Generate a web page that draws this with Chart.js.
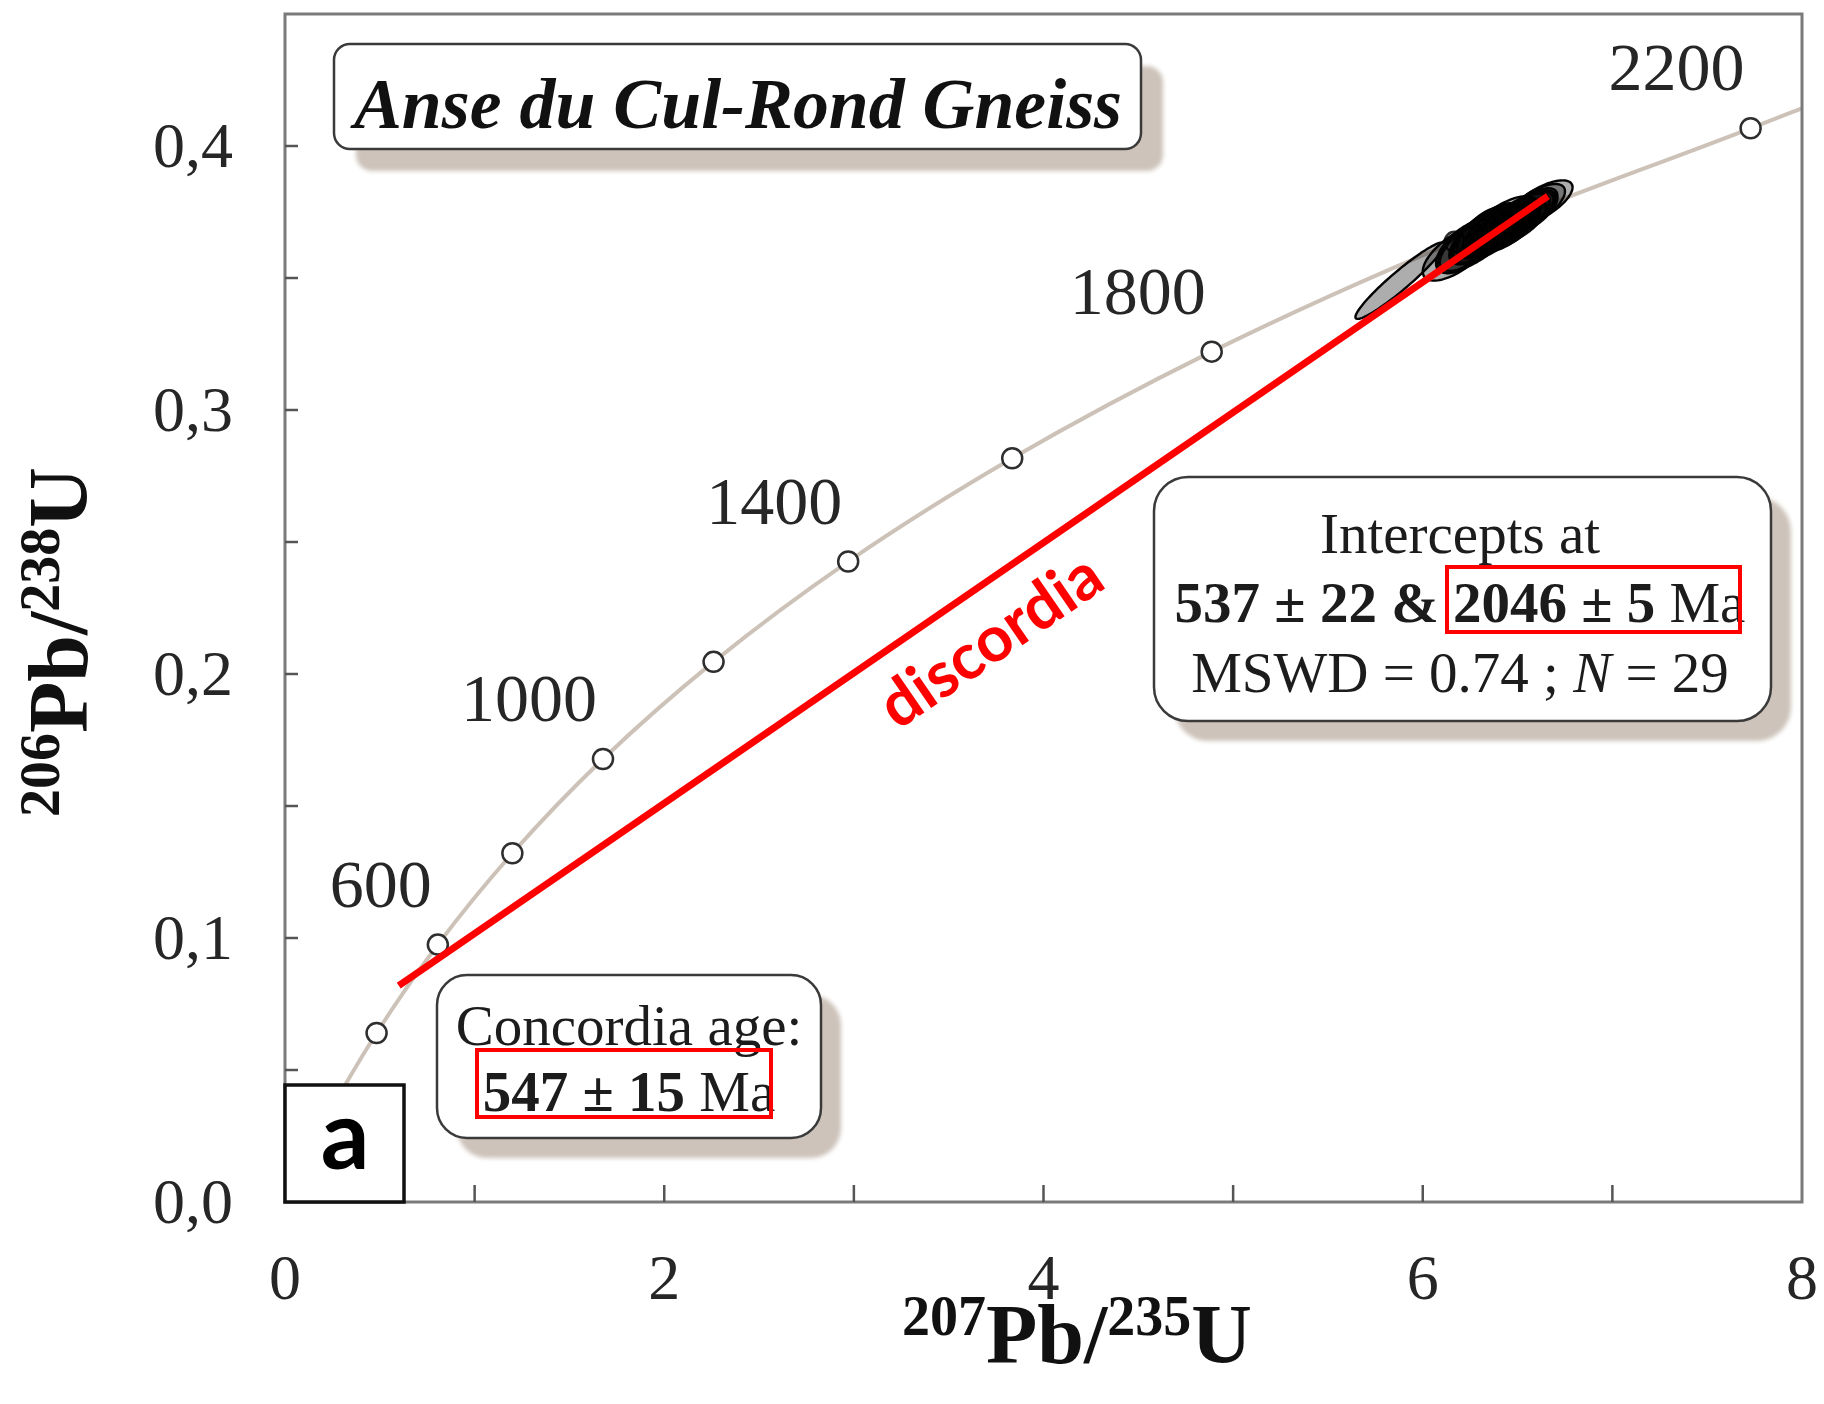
<!DOCTYPE html>
<html>
<head>
<meta charset="utf-8">
<title>Anse du Cul-Rond Gneiss – U-Pb concordia</title>
<script src="https://cdn.jsdelivr.net/npm/chart.js"></script>
<style>
  html, body { margin: 0; padding: 0; background: #ffffff; }
  canvas { display: block; }
</style>
</head>
<body>
<canvas id="concordia" width="1824" height="1404"></canvas>
<script>
// Concordia curve (207Pb/235U, 206Pb/238U), sampled every 200 Ma up to the right edge
const concordiaX = [0, 0.218, 0.483, 0.806, 1.199, 1.677, 2.260, 2.970, 3.835, 4.887, 6.168, 7.729, 8.000];
const concordiaY = [0, 0.0315, 0.0640, 0.0975, 0.1321, 0.1678, 0.2046, 0.2426, 0.2817, 0.3221, 0.3637, 0.4067, 0.4143];

// Age ticks on the concordia (Ma)
const markerAges = [400, 600, 800, 1000, 1200, 1400, 1600, 1800, 2000, 2200];
const markerX = [0.483, 0.806, 1.199, 1.677, 2.260, 2.970, 3.835, 4.887, 6.168, 7.729];
const markerY = [0.0640, 0.0975, 0.1321, 0.1678, 0.2046, 0.2426, 0.2817, 0.3221, 0.3637, 0.4067];
const labelledAges = ['600', '1000', '1400', '1800', '2200'];

// Zircon analyses (N = 29): centre, 2-sigma errors and error correlation
const spotX   = [5.88, 6.18, 6.22, 6.25, 6.28, 6.30, 6.32, 6.34, 6.36, 6.37, 6.38, 6.40, 6.41, 6.42, 6.43,
                 6.44, 6.45, 6.46, 6.47, 6.48, 6.50, 6.51, 6.53, 6.55, 6.57, 6.59, 6.62, 6.29, 6.52];
const spotY   = [0.3490, 0.3595, 0.3620, 0.3628, 0.3650, 0.3655, 0.3672, 0.3670, 0.3675, 0.3663, 0.3687, 0.3680, 0.3705, 0.3690, 0.3698,
                 0.3688, 0.3705, 0.3695, 0.3718, 0.3708, 0.3728, 0.3715, 0.3740, 0.3748, 0.3760, 0.3770, 0.3785, 0.3642, 0.3735];
const spotSx  = [0.235, 0.18, 0.15, 0.17, 0.13, 0.16, 0.14, 0.18, 0.15, 0.13, 0.16, 0.14, 0.19, 0.15, 0.13,
                 0.17, 0.14, 0.16, 0.15, 0.13, 0.17, 0.14, 0.16, 0.15, 0.14, 0.16, 0.17, 0.20, 0.19];
const spotSy  = [0.0145, 0.0105, 0.0100, 0.0110, 0.0095, 0.0103, 0.0097, 0.0113, 0.0092, 0.0085, 0.0097, 0.0089, 0.0105, 0.0092, 0.0078,
                 0.0092, 0.0080, 0.0088, 0.0084, 0.0076, 0.0092, 0.0080, 0.0086, 0.0084, 0.0080, 0.0086, 0.0085, 0.0115, 0.0095];
const spotRho = [0.95, 0.67, 0.65, 0.69, 0.63, 0.67, 0.64, 0.70, 0.66, 0.62, 0.67, 0.65, 0.71, 0.66, 0.63,
                 0.68, 0.64, 0.67, 0.66, 0.62, 0.69, 0.64, 0.67, 0.66, 0.65, 0.68, 0.69, 0.72, 0.70];

// Discordia chord through the lower (537 Ma) and upper (2046 Ma) intercepts
const discordiaX = [0.60, 6.66];
const discordiaY = [0.082, 0.381];

// Axis tick labels
const xTickLabels = ['0', '2', '4', '6', '8'];
const yTickLabels = ['0,0', '0,1', '0,2', '0,3', '0,4'];

const SERIF = '"Liberation Serif", "Times New Roman", serif';
const SANS = 'Lato, "Open Sans", sans-serif';

const toPoints = (xs, ys) => xs.map((x, i) => ({ x: x, y: ys[i] }));

// Draws a sequence of differently styled text runs centred on cx
function drawRuns(ctx, runs, cx, baseline) {
  let total = 0;
  runs.forEach(r => { ctx.font = r.font; r.w = ctx.measureText(r.text).width; total += r.w; });
  let x = cx - total / 2;
  ctx.textAlign = 'left';
  ctx.textBaseline = 'alphabetic';
  runs.forEach(r => {
    ctx.font = r.font;
    ctx.fillStyle = r.color || '#1c1c1c';
    ctx.fillText(r.text, x, baseline + (r.dy || 0));
    x += r.w;
  });
}

// Rounded label box with an offset soft shadow
function shadowBox(ctx, x, y, w, h, r, off) {
  ctx.save();
  ctx.filter = 'blur(2px)';
  ctx.fillStyle = '#cdc3ba';
  ctx.beginPath();
  ctx.roundRect(x + off, y + off, w, h, r);
  ctx.fill();
  ctx.filter = 'none';
  ctx.fillStyle = '#ffffff';
  ctx.strokeStyle = '#3a3a3a';
  ctx.lineWidth = 2.5;
  ctx.beginPath();
  ctx.roundRect(x, y, w, h, r);
  ctx.fill();
  ctx.stroke();
  ctx.restore();
}

function redFrame(ctx, x, y, w, h) {
  ctx.save();
  ctx.strokeStyle = '#ff0000';
  ctx.lineWidth = 4;
  ctx.strokeRect(x, y, w, h);
  ctx.restore();
}

// Error ellipses, drawn just above the concordia and its age ticks
const ellipsePlugin = {
  id: 'errorEllipses',
  afterDatasetDraw(chart, args) {
    if (args.index !== 1) return;
    const ctx = chart.ctx, xs = chart.scales.x, ys = chart.scales.y;
    ctx.save();
    ctx.fillStyle = 'rgba(0,0,0,0.32)';
    ctx.strokeStyle = '#030303';
    ctx.lineWidth = 2.4;
    for (let i = 0; i < spotX.length; i++) {
      const s = Math.sqrt(1 - spotRho[i] * spotRho[i]);
      ctx.beginPath();
      for (let k = 0; k <= 90; k++) {
        const t = k / 90 * 2 * Math.PI;
        const x = spotX[i] + spotSx[i] * Math.cos(t);
        const y = spotY[i] + spotSy[i] * (spotRho[i] * Math.cos(t) + s * Math.sin(t));
        const px = xs.getPixelForValue(x), py = ys.getPixelForValue(y);
        if (k === 0) ctx.moveTo(px, py); else ctx.lineTo(px, py);
      }
      ctx.closePath();
      ctx.fill();
      ctx.stroke();
    }
    ctx.restore();
  }
};

// Frame, inward ticks, tick labels, annotations and axis titles
const decorPlugin = {
  id: 'decor',
  afterDraw(chart) {
    const ctx = chart.ctx, area = chart.chartArea;
    const xs = chart.scales.x, ys = chart.scales.y;

    // plot frame
    ctx.save();
    ctx.strokeStyle = '#7a7a7a';
    ctx.lineWidth = 3;
    ctx.strokeRect(area.left, area.top, area.right - area.left, area.bottom - area.top);

    // inward tick marks
    ctx.strokeStyle = '#555555';
    ctx.lineWidth = 2.5;
    ys.ticks.forEach(t => {
      if (t.value <= ys.min + 1e-9 || t.value >= ys.max - 1e-9) return;
      const py = ys.getPixelForValue(t.value);
      ctx.beginPath(); ctx.moveTo(area.left, py); ctx.lineTo(area.left + 13, py); ctx.stroke();
    });
    xs.ticks.forEach(t => {
      if (t.value <= xs.min + 1e-9 || t.value >= xs.max - 1e-9) return;
      const px = xs.getPixelForValue(t.value);
      ctx.beginPath(); ctx.moveTo(px, area.bottom); ctx.lineTo(px, area.bottom - 17); ctx.stroke();
    });

    // tick labels
    ctx.font = '64px ' + SERIF;
    ctx.fillStyle = '#262626';
    ctx.textBaseline = 'alphabetic';
    ctx.textAlign = 'right';
    ys.ticks.forEach(t => {
      const k = Math.round(t.value * 100);
      if (k % 10 !== 0) return;
      ctx.fillText(yTickLabels[k / 10], area.left - 52, ys.getPixelForValue(t.value) + 21);
    });
    ctx.textAlign = 'center';
    xs.ticks.forEach(t => {
      const k = Math.round(t.value);
      if (k % 2 !== 0) return;
      ctx.fillText(xTickLabels[k / 2], xs.getPixelForValue(t.value), area.bottom + 97);
    });
    ctx.restore();

    // age labels beside the concordia ticks
    ctx.save();
    ctx.font = '68px ' + SERIF;
    ctx.fillStyle = '#262626';
    ctx.textAlign = 'right';
    ctx.textBaseline = 'alphabetic';
    labelledAges.forEach(lbl => {
      const i = markerAges.indexOf(Number(lbl));
      const px = xs.getPixelForValue(markerX[i]);
      const py = ys.getPixelForValue(markerY[i]);
      ctx.fillText(lbl, px - 6, py - 38);
    });
    ctx.restore();

    // "discordia" along the red chord, just below its midpoint
    const p0x = xs.getPixelForValue(discordiaX[0]), p0y = ys.getPixelForValue(discordiaY[0]);
    const p1x = xs.getPixelForValue(discordiaX[1]), p1y = ys.getPixelForValue(discordiaY[1]);
    const ang = Math.atan2(p1y - p0y, p1x - p0x);
    const ux = Math.cos(ang), uy = Math.sin(ang);
    const nx = -uy, ny = ux;
    const mx = (p0x + p1x) / 2 - ux * 14, my = (p0y + p1y) / 2 - uy * 14;
    ctx.save();
    ctx.translate(mx + nx * 52, my + ny * 52);
    ctx.rotate(ang);
    ctx.font = 'bold 66px ' + SANS;
    const dw = ctx.measureText('discordia').width;
    ctx.font = 'bold ' + (66 * 255 / dw).toFixed(1) + 'px ' + SANS;
    ctx.fillStyle = '#ff0000';
    ctx.textAlign = 'center';
    ctx.textBaseline = 'middle';
    ctx.fillText('discordia', 0, 0);
    ctx.restore();

    // sample name
    shadowBox(ctx, 334, 44, 807, 105, 16, 22);
    ctx.save();
    ctx.font = 'italic bold 70px ' + SERIF;
    const tw = ctx.measureText('Anse du Cul-Rond Gneiss').width;
    ctx.font = 'italic bold ' + (70 * 768 / tw).toFixed(1) + 'px ' + SERIF;
    ctx.fillStyle = '#111111';
    ctx.textAlign = 'center';
    ctx.textBaseline = 'alphabetic';
    ctx.fillText('Anse du Cul-Rond Gneiss', 738, 128);
    ctx.restore();

    // intercept ages
    shadowBox(ctx, 1154, 477, 617, 244, 34, 20);
    const reg = '57px ' + SERIF, bold = 'bold 57px ' + SERIF, ital = 'italic 57px ' + SERIF;
    drawRuns(ctx, [{ text: 'Intercepts at', font: reg }], 1460, 553);
    drawRuns(ctx, [
      { text: '537 ± 22 & 2046 ± 5', font: bold },
      { text: ' Ma', font: reg }
    ], 1460, 622);
    drawRuns(ctx, [
      { text: 'MSWD = 0.74 ; ', font: reg },
      { text: 'N', font: ital },
      { text: ' = 29', font: reg }
    ], 1460, 692);
    redFrame(ctx, 1447, 567, 293, 65);

    // concordia age
    shadowBox(ctx, 437, 975, 384, 163, 30, 20);
    drawRuns(ctx, [{ text: 'Concordia age:', font: reg }], 629, 1045);
    drawRuns(ctx, [
      { text: '547 ± 15', font: bold },
      { text: ' Ma', font: reg }
    ], 629, 1111);
    redFrame(ctx, 477, 1050, 294, 67);

    // panel letter
    ctx.save();
    ctx.fillStyle = '#ffffff';
    ctx.fillRect(area.left, 1085, 119, area.bottom - 1085);
    ctx.strokeStyle = '#111111';
    ctx.lineWidth = 3.5;
    ctx.strokeRect(area.left, 1085, 119, area.bottom - 1085);
    ctx.font = 'bold 96px ' + SANS;
    ctx.fillStyle = '#000000';
    ctx.textAlign = 'center';
    ctx.textBaseline = 'alphabetic';
    ctx.fillText('a', area.left + 60, 1169);
    ctx.restore();

    // axis titles with superscript mass numbers
    const big = 'bold 84px ' + SERIF, sup = 'bold 56px ' + SERIF;
    drawRuns(ctx, [
      { text: '207', font: sup, dy: -28, color: '#111' },
      { text: 'Pb/', font: big, color: '#111' },
      { text: '235', font: sup, dy: -28, color: '#111' },
      { text: 'U', font: big, color: '#111' }
    ], 1077, 1363);

    ctx.save();
    ctx.translate(87, 642);
    ctx.rotate(-Math.PI / 2);
    drawRuns(ctx, [
      { text: '206', font: sup, dy: -28, color: '#111' },
      { text: 'Pb/', font: big, color: '#111' },
      { text: '238', font: sup, dy: -28, color: '#111' },
      { text: 'U', font: big, color: '#111' }
    ], 0, 0);
    ctx.restore();
  }
};

new Chart(document.getElementById('concordia'), {
  type: 'scatter',
  data: {
    datasets: [
      {
        label: 'Discordia',
        data: toPoints(discordiaX, discordiaY),
        showLine: true,
        borderColor: '#ff0000',
        borderWidth: 7,
        borderCapStyle: 'butt',
        pointRadius: 0
      },
      {
        label: 'Age ticks',
        data: toPoints(markerX, markerY),
        showLine: false,
        pointStyle: 'circle',
        pointRadius: 10,
        pointBorderWidth: 2.5,
        pointBorderColor: '#2e2e2e',
        pointBackgroundColor: '#ffffff'
      },
      {
        label: 'Concordia',
        data: toPoints(concordiaX, concordiaY),
        showLine: true,
        borderColor: '#cdc2b8',
        borderWidth: 4,
        cubicInterpolationMode: 'monotone',
        pointRadius: 0
      }
    ]
  },
  options: {
    responsive: false,
    animation: false,
    devicePixelRatio: 1,
    layout: { padding: { top: 14, right: 22, left: 0, bottom: 0 } },
    plugins: { legend: { display: false }, tooltip: { enabled: false } },
    scales: {
      x: {
        type: 'linear',
        min: 0, max: 8,
        grid: { display: false, drawTicks: false },
        border: { display: false },
        ticks: { display: false, stepSize: 1 },
        afterFit: s => { s.height = 202; }
      },
      y: {
        type: 'linear',
        min: 0, max: 0.45,
        grid: { display: false, drawTicks: false },
        border: { display: false },
        ticks: { display: false, stepSize: 0.05 },
        afterFit: s => { s.width = 285; }
      }
    }
  },
  plugins: [ellipsePlugin, decorPlugin]
});
</script>
</body>
</html>
